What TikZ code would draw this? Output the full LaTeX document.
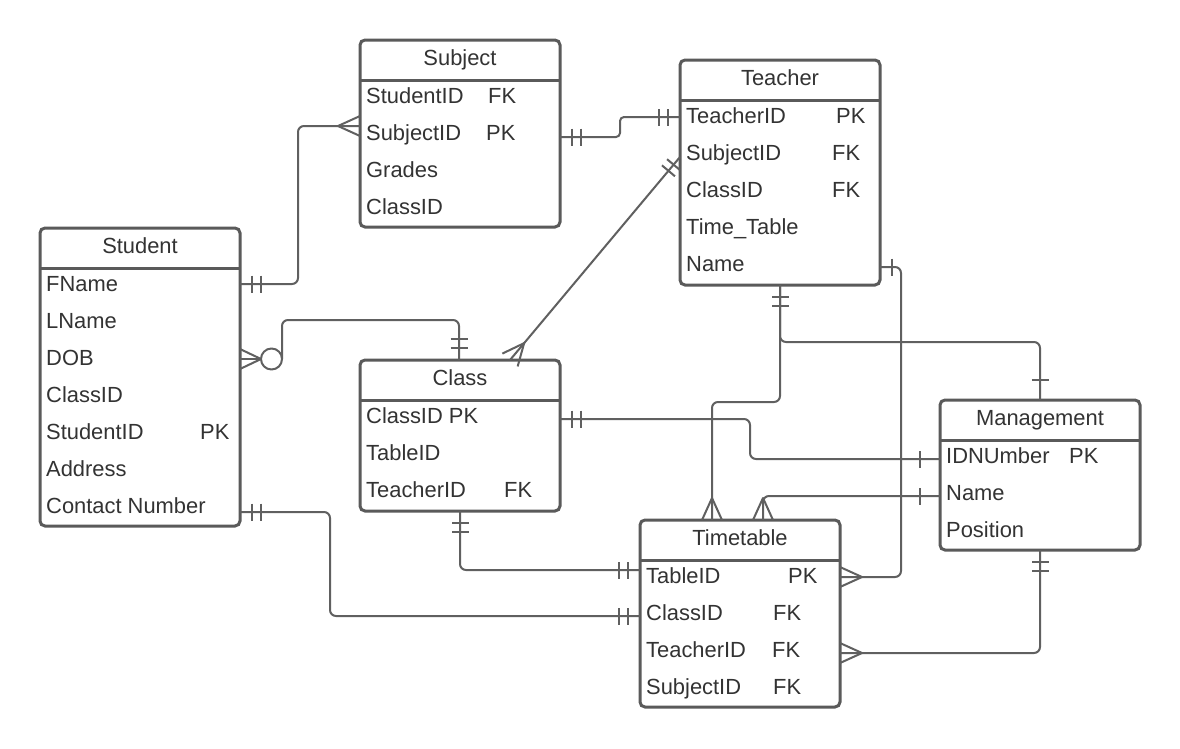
\documentclass[tikz,border=0pt]{standalone}
\usepackage{fontspec}
\setmainfont{Liberation Sans}
\usetikzlibrary{calc}
\definecolor{boxc}{HTML}{5A5A5A}
\definecolor{linec}{HTML}{606060}
\definecolor{txtc}{HTML}{333333}
\tikzset{
  ebox/.style={draw=boxc, line width=3pt, rounded corners=5pt, minimum width=200pt,
    inner sep=0pt, outer sep=0pt, fill=white, anchor=north west},
  eline/.style={draw=boxc, line width=3pt},
  conn/.style={draw=linec, line width=2pt, rounded corners=6pt},
  erbar/.style={draw=linec, line width=2pt, line join=round},
  txt/.style={text=txtc, font=\fontsize{21.9}{24}\selectfont, inner sep=0pt, anchor=base west},
  ttl/.style={text=txtc, font=\fontsize{21.9}{24}\selectfont, inner sep=0pt, anchor=base}
}
\newcommand\entity[5]{%
  \node[ebox, minimum height={#4-#3}] (#1) at (#2,#3) {};
  \draw[eline] ([yshift=-40pt]#1.north west) -- ([yshift=-40pt]#1.north east);
  \node[ttl] (#1-t) at ([yshift=-25pt]#1.north) {#5};}
\newcommand\erow[4]{\node[txt] (#1) at (#2,#3) {#4};}
\newcommand\erone[3]{%
  \coordinate (tmpP) at ($(#1)!#3!(#2)$);
  \draw[erbar] ($(tmpP)!8.5pt!90:(#2)$) -- ($(tmpP)!8.5pt!-90:(#2)$);}
\newcommand\ertwo[2]{\erone{#1}{#2}{12pt}\erone{#1}{#2}{21pt}}
\newcommand\ercrow[2]{%
  \coordinate (tmpV) at ($(#1)!22pt!(#2)$);
  \draw[erbar] ($(#1)!10pt!90:(#2)$) -- (tmpV) -- ($(#1)!10pt!-90:(#2)$);}
\begin{document}
\begin{tikzpicture}[x=1pt, y=-1pt]
\fill[white] (0,0) rectangle (1180,748);
\useasboundingbox (0,0) rectangle (1180,748);

% ---------- entities ----------
\entity{student}{40}{228}{526}{Student}
\erow{stu1}{46}{291.7}{FName}
\erow{stu2}{46}{328.7}{LName}
\erow{stu3}{46}{365.7}{DOB}
\erow{stu4}{46}{402.7}{ClassID}
\erow{stu5}{46}{439.7}{StudentID}
\erow{stu5k}{200}{439.7}{PK}
\erow{stu6}{46}{476.7}{Address}
\erow{stu7}{46}{513.7}{Contact Number}

\entity{subject}{360}{40}{227}{Subject}
\erow{sub1}{366}{103.7}{StudentID}
\erow{sub1k}{488}{103.7}{FK}
\erow{sub2}{366}{140.7}{SubjectID}
\erow{sub2k}{486}{140.7}{PK}
\erow{sub3}{366}{177.7}{Grades}
\erow{sub4}{366}{214.7}{ClassID}

\entity{teacher}{680}{60}{285}{Teacher}
\erow{tea1}{686}{123.7}{TeacherID}
\erow{tea1k}{836}{123.7}{PK}
\erow{tea2}{686}{160.7}{SubjectID}
\erow{tea2k}{832}{160.7}{FK}
\erow{tea3}{686}{197.7}{ClassID}
\erow{tea3k}{832}{197.7}{FK}
\erow{tea4}{686}{234.7}{Time\_Table}
\erow{tea5}{686}{271.7}{Name}

\entity{class}{360}{360}{511}{Class}
\erow{cla1}{366}{423.7}{ClassID PK}
\erow{cla2}{366}{460.7}{TableID}
\erow{cla3}{366}{497.7}{TeacherID}
\erow{cla3k}{504}{497.7}{FK}

\entity{mgmt}{940}{400}{550}{Management}
\erow{man1}{946}{463.7}{IDNUmber}
\erow{man1k}{1069}{463.7}{PK}
\erow{man2}{946}{500.7}{Name}
\erow{man3}{946}{537.7}{Position}

\entity{timetable}{640}{520}{707}{Timetable}
\erow{tim1}{646}{583.7}{TableID}
\erow{tim1k}{788}{583.7}{PK}
\erow{tim2}{646}{620.7}{ClassID}
\erow{tim2k}{773}{620.7}{FK}
\erow{tim3}{646}{657.7}{TeacherID}
\erow{tim3k}{772}{657.7}{FK}
\erow{tim4}{646}{694.7}{SubjectID}
\erow{tim4k}{773}{694.7}{FK}

% ---------- connectors ----------
% Student -> Subject
\coordinate (p1a) at (student.east |- 0,284);
\coordinate (p1b) at (subject.west |- 0,126);
\draw[conn] (p1a) -- (298,284) -- (298,126) -- (p1b);
\ertwo{p1a}{298,284}
\ercrow{p1b}{298,126}

% Subject -> Teacher
\coordinate (p2a) at (subject.east |- 0,137);
\coordinate (p2b) at (teacher.west |- 0,117);
\draw[conn, rounded corners=4pt] (p2a) -- (620,137) -- (620,117) -- (p2b);
\ertwo{p2a}{620,137}
\ertwo{p2b}{620,117}

% Teacher -> Class (diagonal)
\coordinate (p3a) at (teacher.west |- 0,157);
\coordinate (p3b) at (class.north -| 510,0);
\draw[conn] (p3a) -- (p3b);
\erone{p3a}{p3b}{10pt}
\erone{p3a}{p3b}{18pt}
\ercrow{p3b}{p3a}

% Student DOB -> Class (zero or many)
\coordinate (p4a) at (student.east |- 0,359);
\coordinate (p4b) at (class.north -| 459,0);
\coordinate (p4v) at (261,359);
\draw[erbar] ($(p4a)+(0,-10)$) -- (p4v) -- ($(p4a)+(0,10)$);
\draw[erbar] (p4a) -- (p4v);
\draw[erbar, fill=white] (271.5,359) circle (10.5pt);
\draw[conn] (282,359) -- (282,320) -- (459,320) -- (p4b);
\ertwo{p4b}{459,320}

% Class -> Management
\coordinate (p5a) at (class.east |- 0,419);
\coordinate (p5b) at (mgmt.west |- 0,459);
\draw[conn] (p5a) -- (750,419) -- (750,459) -- (p5b);
\ertwo{p5a}{750,419}
\erone{p5b}{750,459}{20pt}

% Management Name -> Timetable
\coordinate (p6a) at (mgmt.west |- 0,496);
\coordinate (p6b) at (timetable.north -| 763,0);
\draw[conn] (p6a) -- (763,496) -- (p6b);
\erone{p6a}{763,496}{20pt}
\ercrow{p6b}{763,496}

% Teacher -> Management
\coordinate (p7a) at (teacher.south);
\coordinate (p7b) at (mgmt.north);
\draw[conn] (p7a) -- (780,342) -- (1040,342) -- (p7b);
\ertwo{p7a}{780,342}
\erone{p7b}{1040,342}{20pt}

% Teacher -> Timetable (top)
\coordinate (p8b) at (timetable.north -| 712,0);
\draw[conn] (p7a) -- (780,402) -- (712,402) -- (p8b);
\ercrow{p8b}{712,402}

% Teacher Name -> Timetable TableID
\coordinate (p9a) at (teacher.east |- 0,267);
\coordinate (p9b) at (timetable.east |- 0,577);
\draw[conn] (p9a) -- (901,267) -- (901,577) -- (p9b);
\ertwo{p9a}{901,267}
\ercrow{p9b}{901,577}

% Class -> Timetable TableID
\coordinate (p10a) at (class.south);
\coordinate (p10b) at (timetable.west |- 0,570);
\draw[conn] (p10a) -- (460,570) -- (p10b);
\ertwo{p10a}{460,570}
\ertwo{p10b}{460,570}

% Student Contact -> Timetable ClassID
\coordinate (p11a) at (student.east |- 0,512);
\coordinate (p11b) at (timetable.west |- 0,616);
\draw[conn] (p11a) -- (330,512) -- (330,616) -- (p11b);
\ertwo{p11a}{330,512}
\ertwo{p11b}{330,616}

% Management -> Timetable TeacherID
\coordinate (p12a) at (mgmt.south);
\coordinate (p12b) at (timetable.east |- 0,653);
\draw[conn] (p12a) -- (1040,653) -- (p12b);
\ertwo{p12a}{1040,653}
\ercrow{p12b}{1040,653}
\end{tikzpicture}
\end{document}
